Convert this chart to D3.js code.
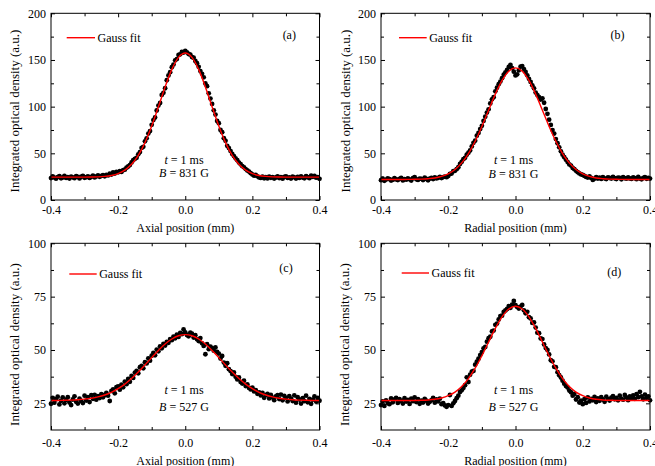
<!DOCTYPE html>
<html>
<head>
<meta charset="utf-8">
<script src="https://cdn.jsdelivr.net/npm/d3@7"></script>
<style>
  body { margin: 0; background: #fff; }
  svg { display: block; font-family: "Liberation Serif", "Times New Roman", serif; }
</style>
</head>
<body>
<svg id="chart" width="655" height="466"></svg>
<script>
// Profiles are sampled every 0.005 mm from -0.4 mm to 0.4 mm (161 points)
const xStart = -0.4;
const xStep = 0.005;
// Gauss fit curves are read every 0.02 mm (41 points)
const fitStep = 0.02;

// (a) axial profile, B = 831 G
const profileA = [
  23.5, 25.2, 24.0, 22.8, 24.6, 25.5, 23.2, 24.1, 25.8, 23.6,
  24.4, 22.9, 25.1, 24.3, 23.4, 25.6, 24.7, 23.1, 24.9, 25.9,
  23.8, 24.5, 25.4, 23.7, 24.8, 26.0, 24.2, 25.3, 26.4, 24.9,
  25.8, 26.5, 25.4, 27.0, 26.3, 28.1, 27.2, 29.5, 28.4, 30.2,
  29.6, 30.8, 30.1, 31.9, 32.5, 34.6, 35.9, 37.4, 40.3, 42.6,
  44.1, 45.2, 48.9, 51.3, 55.8, 57.0, 62.9, 66.1, 71.2, 73.8,
  80.5, 85.6, 88.4, 95.9, 101.2, 104.0, 112.6, 114.8, 119.7, 128.3,
  133.5, 136.9, 142.2, 145.1, 149.6, 151.0, 155.4, 156.0, 158.6, 157.9,
  159.7, 158.2, 156.4, 155.8, 153.1, 152.4, 149.0, 146.5, 142.7, 138.1,
  135.2, 131.4, 124.8, 121.9, 114.3, 108.6, 102.9, 96.1, 91.5, 84.7,
  82.3, 75.1, 72.6, 66.2, 63.4, 58.0, 55.6, 52.4, 49.3, 47.1,
  44.6, 42.7, 40.1, 38.3, 36.2, 35.0, 33.1, 31.6, 30.4, 28.7,
  27.3, 26.1, 26.8, 25.4, 24.2, 23.6, 24.9, 23.3, 24.5, 23.1,
  25.0, 23.8, 24.6, 22.9, 24.1, 25.2, 23.5, 24.4, 22.8, 24.7,
  25.3, 23.6, 24.2, 23.0, 25.1, 24.3, 22.9, 24.8, 23.7, 25.4,
  24.0, 23.2, 25.6, 24.5, 23.4, 26.1, 24.8, 25.7, 23.9, 24.6,
  22.7
];
const fitA = [
  24.5, 24.5, 24.5, 24.5, 24.5, 24.5, 24.6, 24.8, 25.3, 26.3,
  28.3, 32.0, 38.2, 47.8, 61.5, 79.2, 99.8, 121.1, 139.9, 152.8,
  157.5,
  152.8, 139.9, 121.1, 99.8, 79.2, 61.5, 47.8, 38.2, 32.0, 28.3,
  26.3, 25.3, 24.8, 24.6, 24.5, 24.5, 24.5, 24.5, 24.5, 24.5
];

// (b) radial profile, B = 831 G
const profileB = [
  21.2, 22.8, 20.6, 21.9, 23.1, 22.3, 20.9, 21.7, 23.4, 22.0,
  21.3, 22.6, 23.8, 21.0, 22.4, 21.8, 23.2, 22.1, 20.8, 23.5,
  24.6, 22.2, 21.5, 23.0, 22.7, 21.4, 23.9, 22.5, 21.1, 22.9,
  23.6, 22.4, 24.3, 23.1, 23.8, 24.8, 23.5, 24.6, 25.0, 24.4,
  25.6, 27.9, 28.3, 30.9, 31.2, 33.0, 35.1, 38.6, 40.9, 43.7,
  45.2, 48.5, 50.6, 53.1, 57.4, 61.2, 63.5, 68.9, 71.8, 76.0,
  79.5, 84.7, 89.2, 93.6, 97.1, 103.5, 107.8, 110.2, 116.4, 120.3,
  124.1, 126.9, 130.5, 134.2, 136.8, 139.4, 142.6, 144.7, 141.2, 137.5,
  133.4, 134.6, 138.9, 142.8, 143.5, 140.2, 137.1, 133.6, 129.8, 126.5,
  122.8, 119.6, 115.1, 112.4, 110.3, 107.6, 108.9, 104.2, 97.5, 92.3,
  86.1, 80.4, 74.9, 71.2, 65.3, 60.8, 56.4, 52.1, 48.6, 45.9,
  43.2, 40.6, 38.1, 36.9, 34.4, 33.0, 31.2, 29.8, 28.5, 27.4,
  26.9, 25.8, 24.7, 24.1, 25.2, 23.6, 21.5, 22.8, 24.4, 23.0,
  23.9, 22.6, 24.5, 23.2, 22.4, 24.1, 23.6, 22.9, 24.8, 23.3,
  22.5, 24.0, 23.7, 22.2, 24.6, 23.4, 22.8, 24.3, 23.1, 22.6,
  24.2, 23.5, 22.3, 24.7, 23.0, 22.1, 23.8, 24.4, 22.7, 23.6,
  22.9
];
const fitB = [
  22.0, 22.0, 22.0, 22.0, 22.06, 22.15, 22.35, 22.8, 23.6, 25.3,
  28.1, 32.7, 39.8, 49.8, 63.0, 78.8, 96.2, 113.4, 128.1, 138.0,
  141.5,
  138.0, 128.1, 113.4, 96.2, 78.8, 63.0, 49.8, 39.8, 32.7, 28.1,
  25.3, 23.6, 22.8, 22.35, 22.15, 22.06, 22.0, 22.0, 22.0, 22.0
];

// (c) axial profile, B = 527 G
const profileC = [
  24.8, 27.6, 25.3, 26.9, 28.1, 24.5, 26.2, 27.8, 25.0, 26.6,
  27.9, 25.4, 24.2, 26.8, 28.3, 25.7, 24.9, 27.2, 26.1, 25.1,
  28.6, 26.3, 27.9, 25.6, 28.8, 27.1, 29.0, 26.7, 28.4, 27.5,
  29.3, 27.8, 28.9, 29.9, 28.6, 26.1, 30.8, 31.5, 29.7, 32.6,
  32.9, 31.4, 33.8, 32.5, 35.2, 34.0, 36.4, 35.1, 37.8, 36.9,
  39.4, 40.2, 39.1, 41.9, 42.6, 41.4, 44.3, 43.7, 46.1, 45.0,
  47.3, 48.6, 47.5, 50.2, 49.4, 51.7, 50.8, 52.9, 52.1, 53.8,
  53.4, 55.1, 54.6, 56.3, 55.5, 57.2, 56.1, 58.0, 57.4, 59.6,
  58.3, 57.0, 56.4, 58.1, 57.6, 55.8, 56.9, 55.0, 54.2, 55.6,
  53.1, 51.9, 48.0, 52.7, 50.4, 51.6, 50.9, 49.7, 51.2, 49.1,
  48.3, 46.0, 47.2, 44.1, 42.6, 43.8, 41.0, 40.1, 38.7, 39.5,
  37.4, 36.2, 37.1, 35.0, 34.3, 35.6, 33.1, 33.9, 32.2, 31.5,
  32.4, 30.6, 31.2, 29.5, 30.1, 28.7, 29.9, 27.6, 28.8, 29.4,
  27.3, 28.9, 27.7, 26.5, 28.3, 28.8, 27.0, 29.1, 26.4, 28.5,
  27.6, 25.9, 28.4, 27.2, 26.1, 28.7, 25.3, 27.9, 26.8, 24.9,
  27.4, 26.0, 28.6, 25.5, 27.1, 24.8, 26.7, 28.2, 25.8, 27.5,
  26.2
];
const fitC = [
  26.33, 26.36, 26.42, 26.52, 26.68, 26.95, 27.37, 28.0, 28.92, 30.18,
  31.86, 34.01, 36.61, 39.64, 42.97, 46.43, 49.79, 52.78, 55.15, 56.67,
  57.2,
  56.67, 55.15, 52.78, 49.79, 46.43, 42.97, 39.64, 36.61, 34.01, 31.86,
  30.18, 28.92, 28.0, 27.37, 26.95, 26.68, 26.52, 26.42, 26.36, 26.33
];

// (d) radial profile, B = 527 G
const profileD = [
  24.2, 25.9, 23.8, 26.4, 25.1, 24.6, 27.3, 25.5, 26.8, 27.6,
  25.2, 27.0, 26.1, 24.9, 27.4, 25.8, 26.6, 24.7, 27.2, 26.0,
  27.8, 25.6, 26.9, 24.8, 26.3, 25.4, 27.1, 26.2, 24.9, 25.7,
  26.5, 27.6, 25.3, 26.8, 25.9, 27.2, 24.6, 25.1, 24.0, 23.4,
  24.2, 28.9, 23.8, 25.0, 26.1, 27.4, 28.6, 30.3, 31.1, 32.2,
  33.5, 37.2, 35.0, 38.4, 39.8, 40.2, 43.1, 44.5, 45.9, 47.6,
  49.0, 50.8, 51.4, 53.9, 55.5, 56.2, 58.7, 59.1, 61.8, 62.4,
  64.3, 65.9, 66.1, 67.8, 68.5, 69.2, 70.6, 69.8, 71.3, 73.0,
  71.0, 70.1, 69.4, 70.3, 71.1, 68.6, 67.2, 67.9, 65.4, 64.8,
  62.7, 62.9, 60.5, 58.1, 57.9, 55.4, 55.1, 52.6, 50.9, 50.0,
  47.9, 45.2, 44.7, 42.1, 41.9, 39.6, 38.2, 37.1, 35.6, 34.2,
  33.1, 32.4, 31.0, 30.2, 28.6, 29.4, 26.8, 27.9, 25.4, 26.3,
  24.6, 26.9, 25.2, 27.8, 25.9, 27.1, 26.4, 28.0, 25.6, 27.3,
  26.2, 27.9, 26.8, 25.7, 28.1, 27.0, 26.3, 27.7, 28.4, 26.9,
  27.5, 26.4, 28.6, 27.2, 26.7, 28.9, 27.8, 26.5, 28.2, 27.4,
  28.7, 27.1, 29.3, 27.9, 30.4, 28.2, 26.9, 29.1, 27.6, 28.3,
  26.4
];
const fitD = [
  26.3, 26.3, 26.3, 26.3, 26.33, 26.35, 26.43, 26.59, 26.91, 27.51,
  28.56, 30.27, 32.89, 36.59, 41.45, 47.31, 53.76, 60.12, 65.54, 69.2,
  70.5,
  69.2, 65.54, 60.12, 53.76, 47.31, 41.45, 36.59, 32.89, 30.27, 28.56,
  27.51, 26.91, 26.59, 26.43, 26.35, 26.33, 26.3, 26.3, 26.3, 26.3
];

// Axis ticks and labels
const xMajor = [-0.4, -0.2, 0, 0.2, 0.4];
const xMajorLabels = ['-0.4', '-0.2', '0.0', '0.2', '0.4'];
const xMinor = [-0.3, -0.1, 0.1, 0.3];
const yMajorTop = [0, 50, 100, 150, 200];
const yMinorTop = [25, 75, 125, 175];
const yMajorBottom = [25, 50, 75, 100];
const yMinorBottom = [37.5, 62.5, 87.5];

const panels = [
  { id: '(a)', profile: profileA, fit: fitA, xTitle: 'Axial position (mm)', field: '831',
    left: 51, right: 319.5, top: 13.3, bottom: 200, yDomain: [0, 200],
    yMajor: yMajorTop, yMinor: yMinorTop, xPad: 5.5, xTitleY: 232, yTitleX: 19, yTitleY: 111,
    leg: [66.7, 95, 37.7], label: [289.3, 39], note: [184, 163.5, 177] },
  { id: '(b)', profile: profileB, fit: fitB, xTitle: 'Radial position (mm)', field: '831',
    left: 381, right: 650, top: 13.3, bottom: 200, yDomain: [0, 200],
    yMajor: yMajorTop, yMinor: yMinorTop, xPad: 5.5, xTitleY: 232, yTitleX: 349.5, yTitleY: 111,
    leg: [399, 426.7, 37.7], label: [617.5, 39], note: [513.5, 164, 178] },
  { id: '(c)', profile: profileC, fit: fitC, xTitle: 'Axial position (mm)', field: '527',
    left: 51, right: 319.5, top: 243.3, bottom: 430, yDomain: [12.5, 100],
    yMajor: yMajorBottom, yMinor: yMinorBottom, xPad: 8.5, xTitleY: 464.5, yTitleX: 19, yTitleY: 344.5,
    leg: [69.3, 96.7, 274], label: [286, 272], note: [184, 394, 410.5] },
  { id: '(d)', profile: profileD, fit: fitD, xTitle: 'Radial position (mm)', field: '527',
    left: 381, right: 650, top: 243.3, bottom: 430, yDomain: [12.5, 100],
    yMajor: yMajorBottom, yMinor: yMinorBottom, xPad: 8.5, xTitleY: 464.5, yTitleX: 349, yTitleY: 344.5,
    leg: [401.7, 429, 273], label: [614.3, 275.5], note: [513.5, 394, 410.5] }
];

const svg = d3.select('#chart');

function styleAxis(sel) {
  sel.select('.domain').remove();
  sel.selectAll('line').attr('stroke', '#000').attr('stroke-width', 1);
  sel.selectAll('text')
    .attr('fill', '#000')
    .attr('font-family', '"Liberation Serif", "Times New Roman", serif')
    .attr('font-size', 12);
}

panels.forEach(p => {
  const x = d3.scaleLinear().domain([-0.4, 0.4]).range([p.left, p.right]);
  const y = d3.scaleLinear().domain(p.yDomain).range([p.bottom, p.top]);
  const g = svg.append('g');

  // Ticks point inward on all four sides
  g.append('g').attr('transform', `translate(0,${p.bottom})`)
    .call(d3.axisBottom(x).tickValues(xMajor).tickSize(-4).tickSizeOuter(0)
      .tickPadding(p.xPad).tickFormat((d, i) => xMajorLabels[i]))
    .call(styleAxis);
  g.append('g').attr('transform', `translate(0,${p.bottom})`)
    .call(d3.axisBottom(x).tickValues(xMinor).tickSize(-3).tickSizeOuter(0).tickFormat(''))
    .call(styleAxis);
  g.append('g').attr('transform', `translate(0,${p.top})`)
    .call(d3.axisTop(x).tickValues(xMajor).tickSize(-4).tickSizeOuter(0).tickFormat(''))
    .call(styleAxis);
  g.append('g').attr('transform', `translate(0,${p.top})`)
    .call(d3.axisTop(x).tickValues(xMinor).tickSize(-3).tickSizeOuter(0).tickFormat(''))
    .call(styleAxis);

  g.append('g').attr('transform', `translate(${p.left},0)`)
    .call(d3.axisLeft(y).tickValues(p.yMajor).tickSize(-4).tickSizeOuter(0)
      .tickPadding(5).tickFormat(d3.format('d')))
    .call(styleAxis);
  g.append('g').attr('transform', `translate(${p.left},0)`)
    .call(d3.axisLeft(y).tickValues(p.yMinor).tickSize(-3).tickSizeOuter(0).tickFormat(''))
    .call(styleAxis);
  g.append('g').attr('transform', `translate(${p.right},0)`)
    .call(d3.axisRight(y).tickValues(p.yMajor).tickSize(-4).tickSizeOuter(0).tickFormat(''))
    .call(styleAxis);
  g.append('g').attr('transform', `translate(${p.right},0)`)
    .call(d3.axisRight(y).tickValues(p.yMinor).tickSize(-3).tickSizeOuter(0).tickFormat(''))
    .call(styleAxis);

  // Data points
  g.append('g').selectAll('circle')
    .data(p.profile)
    .join('circle')
    .attr('cx', (d, i) => x(xStart + i * xStep))
    .attr('cy', d => y(d))
    .attr('r', 2.4)
    .attr('fill', '#000');

  // Gauss fit
  const line = d3.line()
    .x((d, i) => x(xStart + i * fitStep))
    .y(d => y(d))
    .curve(d3.curveMonotoneX);
  g.append('path')
    .datum(p.fit)
    .attr('fill', 'none')
    .attr('stroke', '#ff0000')
    .attr('stroke-width', 1.4)
    .attr('d', line);

  // Frame
  g.append('rect')
    .attr('x', p.left).attr('y', p.top)
    .attr('width', p.right - p.left).attr('height', p.bottom - p.top)
    .attr('fill', 'none').attr('stroke', '#000').attr('stroke-width', 1);

  // Legend
  g.append('line')
    .attr('x1', p.leg[0]).attr('x2', p.leg[1])
    .attr('y1', p.leg[2]).attr('y2', p.leg[2])
    .attr('stroke', '#ff0000').attr('stroke-width', 1.4);
  g.append('text')
    .attr('x', p.leg[1] + 2.5).attr('y', p.leg[2] + 4)
    .attr('font-size', 12)
    .text('Gauss fit');

  // Panel label
  g.append('text')
    .attr('x', p.label[0]).attr('y', p.label[1])
    .attr('text-anchor', 'middle').attr('font-size', 12)
    .text(p.id);

  // Annotation
  const t1 = g.append('text')
    .attr('x', p.note[0]).attr('y', p.note[1])
    .attr('text-anchor', 'middle').attr('font-size', 12);
  t1.append('tspan').attr('font-style', 'italic').text('t');
  t1.append('tspan').text(' = 1 ms');
  const t2 = g.append('text')
    .attr('x', p.note[0]).attr('y', p.note[2])
    .attr('text-anchor', 'middle').attr('font-size', 12);
  t2.append('tspan').attr('font-style', 'italic').text('B');
  t2.append('tspan').text(` = ${p.field} G`);

  // Axis titles
  g.append('text')
    .attr('x', (p.left + p.right) / 2).attr('y', p.xTitleY)
    .attr('text-anchor', 'middle').attr('font-size', 12)
    .text(p.xTitle);
  g.append('text')
    .attr('transform', `translate(${p.yTitleX},${p.yTitleY}) rotate(-90)`)
    .attr('text-anchor', 'middle').attr('font-size', 13)
    .text('Integrated optical density (a.u.)');
});
</script>
</body>
</html>
